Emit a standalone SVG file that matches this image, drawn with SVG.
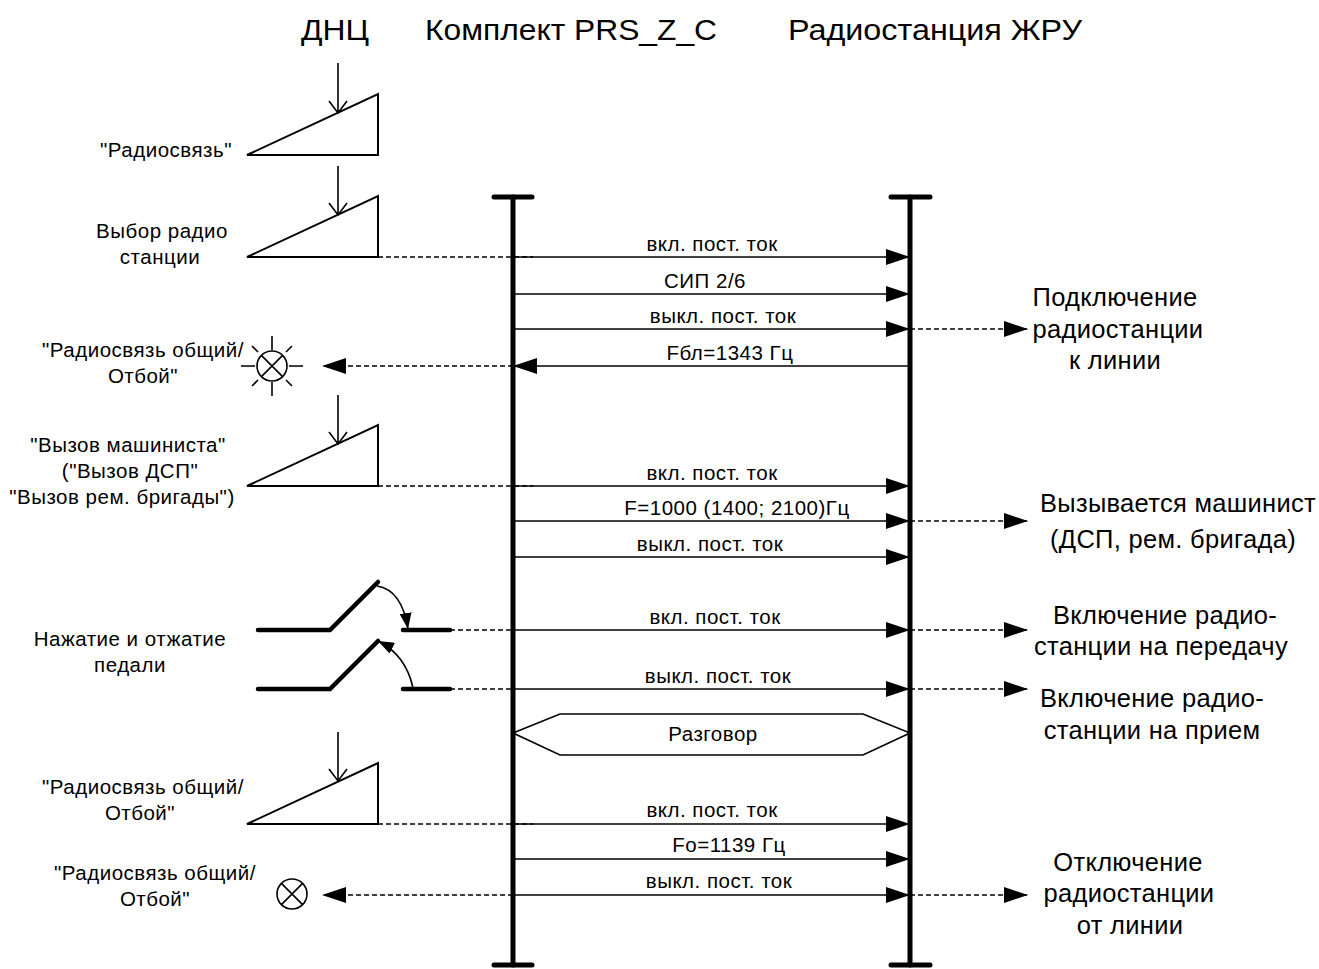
<svg xmlns="http://www.w3.org/2000/svg" width="1319" height="969" viewBox="0 0 1319 969">
<defs>
<style>
text{font-family:"Liberation Sans",Arial,sans-serif;fill:#000}
.hd{font-size:30px;text-anchor:middle}
.lb{font-size:20.5px;text-anchor:middle;letter-spacing:0.5px}
.rt{font-size:25.5px;text-anchor:middle;letter-spacing:0.3px}
.ml{font-size:20.5px;text-anchor:middle;letter-spacing:0.5px}
.ll{stroke:#000;stroke-width:5;stroke-linecap:round;fill:none}
.msg{stroke:#000;stroke-width:1.6;fill:none;marker-end:url(#ah)}
.dsh{stroke:#000;stroke-width:1.6;fill:none;stroke-dasharray:5 3}
.dsa{stroke:#000;stroke-width:1.6;fill:none;stroke-dasharray:5 3;marker-end:url(#ah)}
.sh{stroke:#000;stroke-width:2;fill:#fff;stroke-linejoin:miter}
.thin{stroke:#000;stroke-width:1.6;fill:none}
.sw{stroke:#000;stroke-width:4.5;fill:none;stroke-linecap:round}
.crv{stroke:#000;stroke-width:1.6;fill:none;marker-end:url(#sa)}
</style>
<marker id="ah" markerUnits="userSpaceOnUse" markerWidth="24" markerHeight="16" refX="24" refY="8" orient="auto" viewBox="0 0 24 16">
<path d="M0,0 L24,8 L0,16 Z" fill="#000"/>
</marker>
<marker id="sa" markerUnits="userSpaceOnUse" markerWidth="16" markerHeight="12" refX="16" refY="6" orient="auto" viewBox="0 0 16 12">
<path d="M0,0 L16,6 L0,12 Z" fill="#000"/>
</marker>
<g id="lampshape">
<circle cx="0" cy="0" r="15" fill="#fff" stroke="#000" stroke-width="1.6"/>
<path d="M-10.6,-10.6 L10.6,10.6 M10.6,-10.6 L-10.6,10.6" stroke="#000" stroke-width="1.6"/>
</g>
</defs>

<g id="headers">
<text class="hd" x="335" y="40" textLength="68" lengthAdjust="spacingAndGlyphs">ДНЦ</text>
<text class="hd" x="571" y="40" textLength="292" lengthAdjust="spacingAndGlyphs">Комплект PRS_Z_C</text>
<text class="hd" x="935" y="40" textLength="294" lengthAdjust="spacingAndGlyphs">Радиостанция ЖРУ</text>
</g>

<g id="lifeline-prs">
<line class="ll" x1="513" y1="197" x2="513" y2="965"/>
<line class="ll" x1="494" y1="197" x2="532" y2="197"/>
<line class="ll" x1="494" y1="965" x2="532" y2="965"/>
</g>
<g id="lifeline-zhru">
<line class="ll" x1="910" y1="197" x2="910" y2="965"/>
<line class="ll" x1="891" y1="197" x2="930" y2="197"/>
<line class="ll" x1="891" y1="965" x2="930" y2="965"/>
</g>

<g id="key-radio">
<path class="sh" d="M247,155 L378,94 L378,155 Z"/>
<path class="thin" d="M338,63 L338,113 M329,101 L338,113 L347,101"/>
<text class="lb" x="166" y="157">"Радиосвязь"</text>
</g>

<g id="key-select">
<path class="sh" d="M247,257 L378,196 L378,257 Z"/>
<path class="thin" d="M338,166 L338,215 M329,203 L338,215 L347,203"/>
<text class="lb" x="162" y="238">Выбор радио</text>
<text class="lb" x="160" y="264">станции</text>
</g>

<g id="lamp-1">
<use href="#lampshape" x="272" y="366"/>
<path class="thin" d="M272,336 L272,350 M272,382 L272,396 M241,366 L255,366 M289,366 L303,366 M258,352 L252,346 M286,352 L292,346 M258,380 L252,386 M286,380 L292,386"/>
<text class="lb" x="143" y="357">"Радиосвязь общий/</text>
<text class="lb" x="143" y="383">Отбой"</text>
</g>

<g id="key-call">
<path class="sh" d="M247,486 L378,425 L378,486 Z"/>
<path class="thin" d="M338,395 L338,444 M329,432 L338,444 L347,432"/>
<text class="lb" x="128" y="452">"Вызов машиниста"</text>
<text class="lb" x="130" y="478">("Вызов ДСП"</text>
<text class="lb" x="122" y="504">"Вызов рем. бригады")</text>
</g>

<g id="pedal">
<path class="sw" d="M258,630 L330,630 L378,582"/>
<line class="sw" x1="403" y1="630" x2="450" y2="630"/>
<path class="crv" d="M377,586 Q402,590 408,629"/>
<path class="sw" d="M258,689 L330,689 L378,641"/>
<line class="sw" x1="403" y1="689" x2="450" y2="689"/>
<path class="crv" d="M413,688 Q406,655 378,641"/>
<text class="lb" x="130" y="646">Нажатие и отжатие</text>
<text class="lb" x="130" y="672">педали</text>
</g>

<g id="talk">
<path class="thin" d="M513,733 L560,714 L863,714 L910,733 L863,755 L560,755 Z"/>
<text class="ml" x="713" y="741">Разговор</text>
</g>

<g id="key-off">
<path class="sh" d="M247,824 L378,763 L378,824 Z"/>
<path class="thin" d="M338,732 L338,781 M329,769 L338,781 L347,769"/>
<text class="lb" x="143" y="794">"Радиосвязь общий/</text>
<text class="lb" x="140" y="820">Отбой"</text>
</g>

<g id="lamp-2">
<use href="#lampshape" x="292" y="894"/>
<text class="lb" x="155" y="880">"Радиосвязь общий/</text>
<text class="lb" x="155" y="906">Отбой"</text>
</g>

<g id="results">
<text class="rt" x="1115" y="306">Подключение</text>
<text class="rt" x="1118" y="338">радиостанции</text>
<text class="rt" x="1115" y="369">к линии</text>
<text class="rt" x="1178" y="512">Вызывается машинист</text>
<text class="rt" x="1173" y="548">(ДСП, рем. бригада)</text>
<text class="rt" x="1165" y="624">Включение радио-</text>
<text class="rt" x="1161" y="655">станции на передачу</text>
<text class="rt" x="1152" y="707">Включение радио-</text>
<text class="rt" x="1152" y="739">станции на прием</text>
<text class="rt" x="1128" y="871">Отключение</text>
<text class="rt" x="1129" y="902">радиостанции</text>
<text class="rt" x="1130" y="934">от линии</text>
</g>

<g id="connectors">
<line class="dsh" x1="378" y1="257" x2="533" y2="257"/>
<line class="msg" x1="513" y1="257" x2="910" y2="257"/>
<line class="msg" x1="513" y1="294" x2="910" y2="294"/>
<line class="msg" x1="513" y1="329" x2="910" y2="329"/>
<line class="dsa" x1="910" y1="329" x2="1028" y2="329"/>
<line class="msg" x1="910" y1="366" x2="513" y2="366"/>
<line class="dsa" x1="513" y1="366" x2="322" y2="366"/>

<line class="dsh" x1="378" y1="486" x2="533" y2="486"/>
<line class="msg" x1="513" y1="486" x2="910" y2="486"/>
<line class="msg" x1="513" y1="521" x2="910" y2="521"/>
<line class="dsa" x1="910" y1="521" x2="1028" y2="521"/>
<line class="msg" x1="513" y1="557" x2="910" y2="557"/>

<line class="dsh" x1="450" y1="630" x2="513" y2="630"/>
<line class="msg" x1="513" y1="630" x2="910" y2="630"/>
<line class="dsa" x1="910" y1="630" x2="1028" y2="630"/>
<line class="dsh" x1="450" y1="689" x2="513" y2="689"/>
<line class="msg" x1="513" y1="689" x2="910" y2="689"/>
<line class="dsa" x1="910" y1="689" x2="1028" y2="689"/>

<line class="dsh" x1="378" y1="824" x2="533" y2="824"/>
<line class="msg" x1="513" y1="824" x2="910" y2="824"/>
<line class="msg" x1="513" y1="859" x2="910" y2="859"/>
<line class="msg" x1="513" y1="895" x2="910" y2="895"/>
<line class="dsa" x1="910" y1="895" x2="1028" y2="895"/>
<line class="dsa" x1="513" y1="895" x2="322" y2="895"/>

<text class="ml" x="712" y="251">вкл. пост. ток</text>
<text class="ml" x="705" y="288">СИП 2/6</text>
<text class="ml" x="723" y="323">выкл. пост. ток</text>
<text class="ml" x="730" y="360">Fбл=1343 Гц</text>
<text class="ml" x="712" y="480">вкл. пост. ток</text>
<text class="ml" x="737" y="515">F=1000 (1400; 2100)Гц</text>
<text class="ml" x="710" y="551">выкл. пост. ток</text>
<text class="ml" x="715" y="624">вкл. пост. ток</text>
<text class="ml" x="718" y="683">выкл. пост. ток</text>
<text class="ml" x="712" y="817">вкл. пост. ток</text>
<text class="ml" x="729" y="852">Fо=1139 Гц</text>
<text class="ml" x="719" y="888">выкл. пост. ток</text>
</g>
</svg>
